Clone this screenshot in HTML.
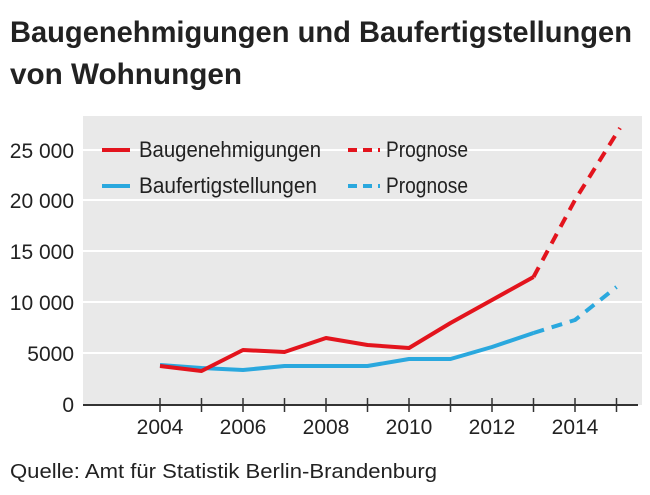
<!DOCTYPE html>
<html><head><meta charset="utf-8"><style>
body{margin:0;background:#fff;}
svg text{font-family:"Liberation Sans Narrow","Liberation Sans",sans-serif;fill:#222;}
</style></head><body>
<svg width="650" height="490" viewBox="0 0 650 490" xmlns="http://www.w3.org/2000/svg">
<text x="10" y="42" font-size="30" font-weight="bold" textLength="622" lengthAdjust="spacingAndGlyphs">Baugenehmigungen und Baufertigstellungen</text>
<text x="10" y="84" font-size="30" font-weight="bold" textLength="232" lengthAdjust="spacingAndGlyphs">von Wohnungen</text>
<rect x="83" y="116" width="559" height="289" fill="#e9e9e9"/>
<g stroke="#fff" stroke-width="2">
<line x1="83" x2="642" y1="150" y2="150"/><line x1="83" x2="642" y1="200" y2="200"/>
<line x1="83" x2="642" y1="251" y2="251"/><line x1="83" x2="642" y1="302" y2="302"/>
<line x1="83" x2="642" y1="353" y2="353"/>
</g>
<g font-size="21" text-anchor="end">
<text x="74" y="412">0</text><text x="74" y="361">5000</text><text x="74" y="310">10 000</text>
<text x="74" y="259">15 000</text><text x="74" y="208">20 000</text><text x="74" y="158">25 000</text>
</g>
<line x1="83" x2="638" y1="405" y2="405" stroke="#333" stroke-width="2"/>
<g stroke="#333" stroke-width="1.5">
<line x1="160" x2="160" y1="398" y2="412"/><line x1="201.5" x2="201.5" y1="398" y2="412"/>
<line x1="243" x2="243" y1="398" y2="412"/><line x1="284.5" x2="284.5" y1="398" y2="412"/>
<line x1="326" x2="326" y1="398" y2="412"/><line x1="367.5" x2="367.5" y1="398" y2="412"/>
<line x1="409" x2="409" y1="398" y2="412"/><line x1="450.5" x2="450.5" y1="398" y2="412"/>
<line x1="492" x2="492" y1="398" y2="412"/><line x1="533.5" x2="533.5" y1="398" y2="412"/>
<line x1="575" x2="575" y1="398" y2="412"/><line x1="616.5" x2="616.5" y1="398" y2="412"/>
</g>
<g font-size="21" text-anchor="middle">
<text x="160" y="434">2004</text><text x="243" y="434">2006</text><text x="326" y="434">2008</text>
<text x="409" y="434">2010</text><text x="492" y="434">2012</text><text x="575" y="434">2014</text>
</g>
<text x="10" y="478" font-size="20" textLength="427" lengthAdjust="spacingAndGlyphs">Quelle: Amt für Statistik Berlin-Brandenburg</text>
<g fill="none" stroke-width="4" stroke-linejoin="round">
<polyline stroke="#2aa8de" points="160,365 201.5,368 243,370 284.5,366 326,366 367.5,366 409,359 450.5,359 492,347 533.5,333"/>
<polyline stroke="#2aa8de" stroke-dasharray="11,8" points="533.5,333 575,320 616.5,287"/>
<polyline stroke="#e3141d" points="160,366 201.5,371 243,350 284.5,352 326,338 367.5,345 409,348 450.5,323 492,300 533.5,277"/>
<polyline stroke="#e3141d" stroke-dasharray="11,8" points="533.5,277 575,200 620,128"/>
<line x1="102" x2="130" y1="150" y2="150" stroke="#e3141d"/>
<line x1="102" x2="130" y1="186" y2="186" stroke="#2aa8de"/>
<line x1="348" x2="380" y1="150" y2="150" stroke="#e3141d" stroke-dasharray="9,6"/>
<line x1="348" x2="380" y1="186" y2="186" stroke="#2aa8de" stroke-dasharray="9,6"/>
</g>
<g font-size="22">
<text x="139" y="157" textLength="182" lengthAdjust="spacingAndGlyphs">Baugenehmigungen</text>
<text x="139" y="193" textLength="178" lengthAdjust="spacingAndGlyphs">Baufertigstellungen</text>
<text x="386" y="157" textLength="82" lengthAdjust="spacingAndGlyphs">Prognose</text>
<text x="386" y="193" textLength="82" lengthAdjust="spacingAndGlyphs">Prognose</text>
</g>
</svg>
</body></html>
